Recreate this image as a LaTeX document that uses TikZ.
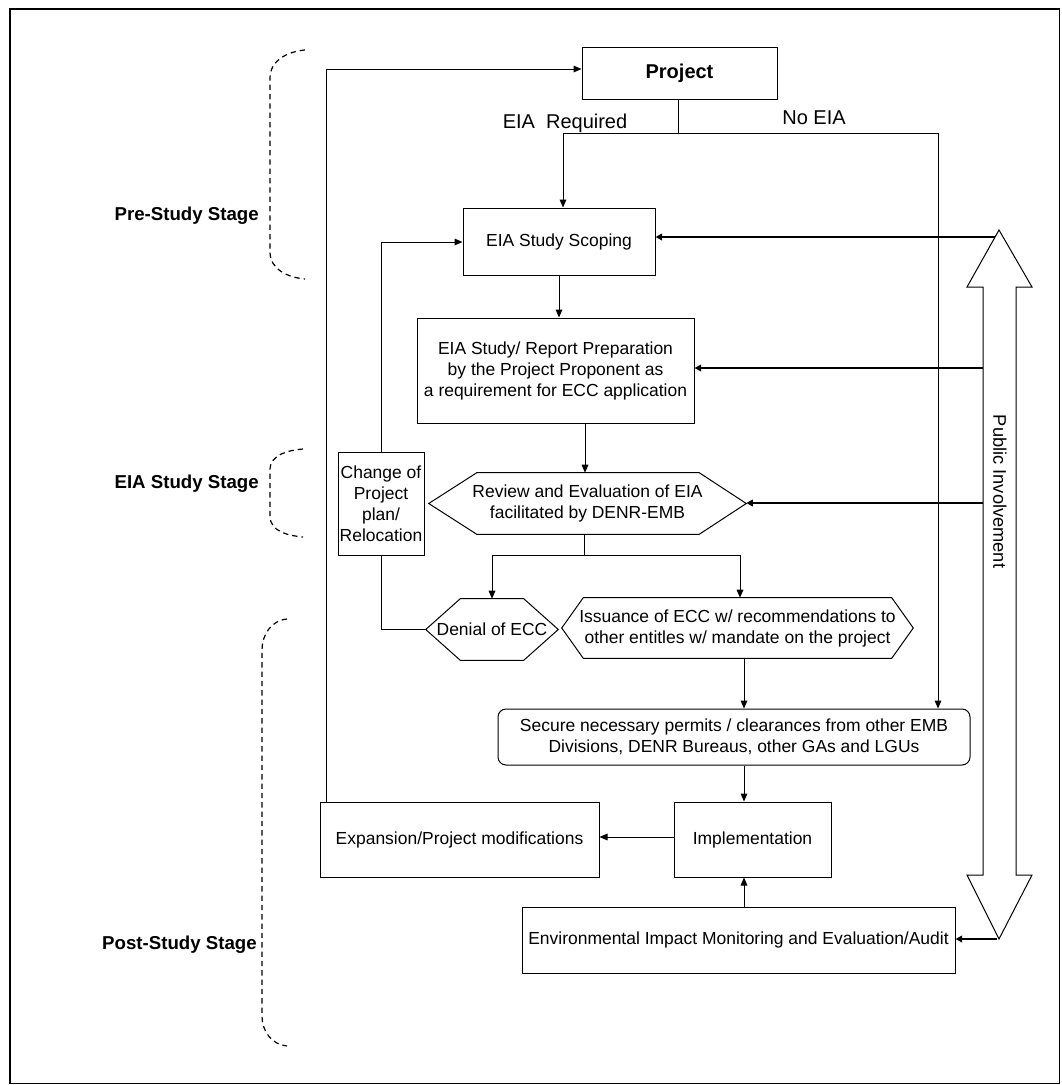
\documentclass[tikz,border=0pt]{standalone}
\usepackage{fontspec}
\setmainfont{Liberation Sans}
\usetikzlibrary{arrows.meta,calc}
\begin{document}
\begin{tikzpicture}[x=0.75pt,y=-0.75pt,
  box/.style={draw, line width=0.75pt, inner sep=0pt, align=center,
    font=\fontsize{13.1}{15.75}\selectfont},
  hexbox/.style={inner sep=0pt, align=center, font=\fontsize{13.1}{15.75}\selectfont},
  hexline/.style={draw, line width=0.75pt},
  line/.style={line width=0.75pt},
  arr/.style={line width=0.75pt, -{Triangle[length=6pt,width=5pt]}},
  tarr/.style={line width=1.9pt, -{Triangle[length=5pt,width=5pt]}},
  bracket/.style={line width=0.9pt, dash pattern=on 4pt off 3pt},
  stage/.style={inner sep=0pt, font=\fontsize{14}{16}\selectfont\bfseries},
  lab/.style={inner sep=0pt, font=\fontsize{15}{18}\selectfont}]
\useasboundingbox (0,0) rectangle (1061,1085);
\draw[line width=1pt] (10,9) rectangle (1059.5,1083.5);

% nodes
\node[box, minimum width=146.25pt, minimum height=39pt, font=\fontsize{15}{18}\selectfont\bfseries] (Project) at (679.5,73) {Project};
\node[box, minimum width=144pt, minimum height=50.25pt] (Scoping) at (559,241.5) {EIA Study Scoping};
\node[box, minimum width=207.75pt, minimum height=78.75pt] (Report) at (555.5,370.5) {EIA Study/ Report Preparation\\by the Project Proponent as\\a requirement for ECC application};
\node[hexbox, minimum width=237.75pt, minimum height=45.75pt] (Review) at (587.5,503.5) {Review and Evaluation of EIA\\facilitated by DENR-EMB};
\node[box, minimum width=64.5pt, minimum height=77.25pt] (Change) at (381,503.5) {Change of\\Project\\plan/\\Relocation};
\node[hexbox, minimum width=99pt, minimum height=45.75pt] (Denial) at (492,629.5) {Denial of ECC};
\node[hexbox, minimum width=263.25pt, minimum height=45pt] (Issuance) at (737.5,628) {Issuance of ECC w/ recommendations to\\other entitles w/ mandate on the project};
\node[box, rounded corners=6pt, minimum width=354pt, minimum height=42pt] (Secure) at (734,737) {Secure necessary permits / clearances from other EMB\\Divisions, DENR Bureaus, other GAs and LGUs};
\node[box, minimum width=209.25pt, minimum height=56.25pt] (Expansion) at (459.5,839.5) {Expansion/Project modifications};
\node[box, minimum width=117.75pt, minimum height=56.25pt] (Implementation) at (752.5,839.5) {Implementation};
\node[box, minimum width=324.75pt, minimum height=49.5pt] (Env) at (738.5,940) {Environmental Impact Monitoring and Evaluation/Audit};

% hexagon outlines
\draw[hexline] (Review.west) -- ($(Review.north west)+(48,0)$) -- ($(Review.north east)+(-47,0)$) -- (Review.east) -- ($(Review.south east)+(-47,0)$) -- ($(Review.south west)+(48,0)$) -- cycle;
\draw[hexline] (Denial.west) -- ($(Denial.north west)+(34.5,0)$) -- ($(Denial.north east)+(-34.5,0)$) -- (Denial.east) -- ($(Denial.south east)+(-34.5,0)$) -- ($(Denial.south west)+(34.5,0)$) -- cycle;
\draw[hexline] (Issuance.west) -- ($(Issuance.north west)+(21.5,0)$) -- ($(Issuance.north east)+(-21.5,0)$) -- (Issuance.east) -- ($(Issuance.south east)+(-21.5,0)$) -- ($(Issuance.south west)+(21.5,0)$) -- cycle;

% stage labels and brackets
\node[stage, anchor=base east] (pre) at (259,220) {Pre-Study Stage};
\node[stage, anchor=base east] (eia) at (259,488) {EIA Study Stage};
\node[stage, anchor=base east] (post) at (257,949) {Post-Study Stage};
\draw[bracket] (305,50) to[out=185,in=90] (270,78) -- (270,252) to[out=-90,in=175] (305,279);
\draw[bracket] (303,449) to[out=185,in=90] (270,470) -- (270,516) to[out=-90,in=175] (303,537);
\draw[bracket] (287,619) to[out=185,in=90] (262,650) -- (262,1016) to[out=-90,in=175] (287,1046);

% public involvement double arrow
\draw[line, fill=white] (999,230) -- (1032,287) -- (1016,287) -- (1016,875) -- (1032,875) -- (999,939) -- (967,875) -- (983,875) -- (983,287) -- (967,287) -- cycle;
\node[inner sep=0pt, rotate=-90, font=\fontsize{13.7}{16}\selectfont] (PI) at (1000,491.5) {Public Involvement};

% connectors from project
\coordinate (sp) at (678,133);
\coordinate (eiaT) at (563,133);
\coordinate (noT) at (938,133);
\draw[line] (Project.south -| sp) -- (sp);
\draw[arr] (sp) -- (eiaT) -- (eiaT |- Scoping.north);
\draw[arr] (sp) -- (noT) -- (noT |- Secure.north);
\node[lab, anchor=base] (lreq) at (565,128) {EIA\ \ Required};
\node[lab, anchor=base] (lno) at (814,124) {No EIA};

% main flow
\draw[arr] (Scoping.south) -- (Scoping.south |- Report.north);
\coordinate (rx) at (585,0);
\draw[arr] (Report.south -| rx) -- (Review.north -| rx);
\coordinate (rv) at (584,555);
\coordinate (dL) at (492,555);
\coordinate (dR) at (740,555);
\draw[line] (Review.south -| rv) -- (rv);
\draw[arr] (rv) -- (dL) -- (dL |- Denial.north);
\draw[arr] (rv) -- (dR) -- (dR |- Issuance.north);
\draw[line] (Denial.west) -| (Change.south);
\coordinate (cs) at (381,242);
\draw[arr] (Change.north) -- (cs) -- (cs -| Scoping.west);
\coordinate (ix) at (744,0);
\draw[arr] (Issuance.south -| ix) -- (Secure.north -| ix);
\draw[arr] (Secure.south -| ix) -- (Implementation.north -| ix);
\coordinate (iy) at (0,837);
\draw[arr] (Implementation.west |- iy) -- (Expansion.east |- iy);
\coordinate (lp) at (326,69);
\draw[arr] (Expansion.north -| lp) -- (lp) -- (lp -| Project.west);
\draw[arr] (Env.north -| ix) -- (Implementation.south -| ix);

% public involvement connectors
\coordinate (pi1) at (995,237);
\coordinate (pi2) at (983,368);
\coordinate (pi3) at (983,503);
\coordinate (pi4) at (997,939);
\draw[tarr] (pi1) -- (pi1 -| Scoping.east);
\draw[tarr] (pi2) -- (pi2 -| Report.east);
\draw[tarr] (pi3) -- (pi3 -| Review.east);
\draw[tarr] (pi4) -- (pi4 -| Env.east);
\end{tikzpicture}
\end{document}
